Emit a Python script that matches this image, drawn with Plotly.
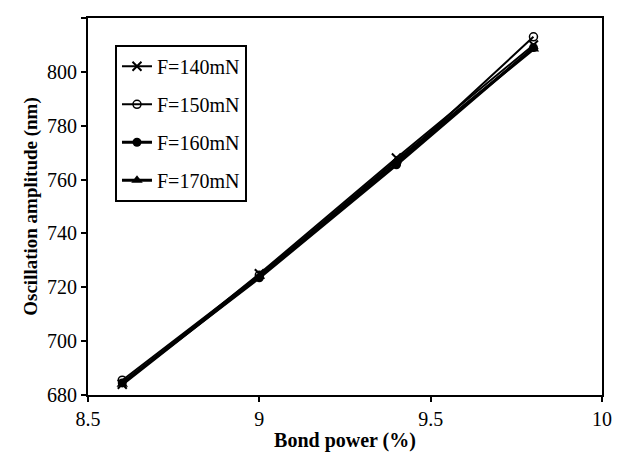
import plotly.graph_objects as go

bond_power = [8.6, 9.0, 9.4, 9.8]
amp_140 = [684.0, 725.0, 768.0, 810.0]
amp_150 = [685.5, 724.5, 766.0, 813.0]
amp_160 = [684.5, 723.5, 765.5, 809.0]
amp_170 = [684.0, 724.0, 767.0, 808.5]
series_names = ["F=140mN", "F=150mN", "F=160mN", "F=170mN"]
x_ticks = [8.5, 9, 9.5, 10]
x_tick_labels = ["8.5", "9", "9.5", "10"]
y_ticks = [680, 700, 720, 740, 760, 780, 800, 820]

styles = [
    dict(symbol="x-thin", size=9, lw=2, mlw=2),
    dict(symbol="circle-open", size=8, lw=2, mlw=1.5),
    dict(symbol="circle", size=9, lw=3, mlw=0),
    dict(symbol="triangle-up", size=10, lw=3, mlw=0),
]

fig = go.Figure()
for i, (name, ys, st) in enumerate(zip(series_names, [amp_140, amp_150, amp_160, amp_170], styles)):
    fig.add_trace(go.Scatter(
        x=bond_power, y=ys, name=name, mode="lines+markers",
        legendgroup="g%d" % i,
        line=dict(color="black", width=st["lw"]),
        marker=dict(symbol=st["symbol"], size=st["size"], color="black",
                    line=dict(color="black", width=st["mlw"])),
    ))

font_family = "Liberation Serif, Times New Roman, serif"
fig.update_layout(
    width=627, height=458,
    margin=dict(l=80, r=33, t=8, b=71),
    plot_bgcolor="white", paper_bgcolor="white",
    font=dict(family=font_family, size=20, color="black"),
    showlegend=True,
    legend=dict(x=0.0525, y=0.929, xanchor="left", yanchor="top",
                bordercolor="black", borderwidth=2, bgcolor="white",
                font=dict(family=font_family, size=20, color="black"),
                itemwidth=30, tracegroupgap=9),
    xaxis=dict(range=[8.5, 10], tickvals=x_ticks, ticktext=x_tick_labels,
               showgrid=False, zeroline=False, showline=True, linecolor="black",
               linewidth=2, mirror=True, ticks="outside", ticklen=5, tickwidth=2,
               tickcolor="black",
               title=dict(text="<b>Bond power (%)</b>", font=dict(size=20), standoff=4)),
    yaxis=dict(range=[680, 820], tickvals=y_ticks,
               showgrid=False, zeroline=False, showline=True, linecolor="black",
               linewidth=2, mirror=True, ticks="outside", ticklen=5, tickwidth=2,
               tickcolor="black",
               title=dict(text="<b>Oscillation amplitude (nm)</b>", font=dict(size=19), standoff=4)),
)

fig.write_html("out.html")
